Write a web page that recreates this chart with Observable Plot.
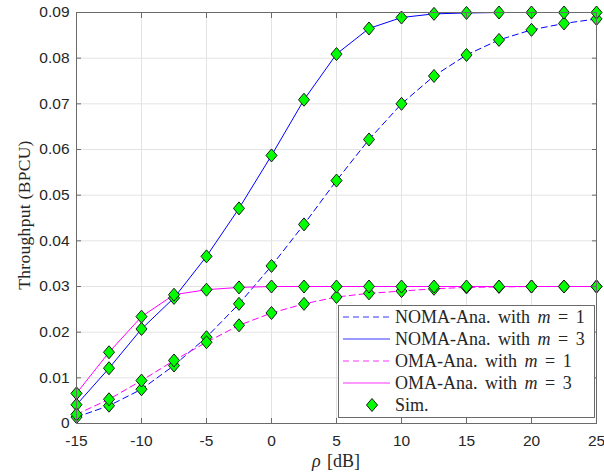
<!DOCTYPE html>
<html>
<head>
<meta charset="utf-8">
<script src="https://cdn.jsdelivr.net/npm/d3@7"></script>
<script src="https://cdn.jsdelivr.net/npm/@observablehq/plot@0.6"></script>
<style>
  html, body { margin: 0; padding: 0; background: #fff; }
  #wrap { position: relative; width: 604px; height: 476px; }
  #wrap svg.plot { position: absolute; left: 0; top: 0; }
  .lab { position: absolute; font-family: "Liberation Serif", serif; color: #262626; white-space: nowrap; }
</style>
</head>
<body>
<div id="wrap"></div>
<script>
// SNR grid (dB)
const snr = [-15, -12.5, -10, -7.5, -5, -2.5, 0, 2.5, 5, 7.5, 10, 12.5, 15, 17.5, 20, 22.5, 25];

// Throughput (BPCU) per scheme
const nomaM1 = [0.0014, 0.0039, 0.0075, 0.0127, 0.0189, 0.0262, 0.0345, 0.0436, 0.0532, 0.0622, 0.0700, 0.0761, 0.0807, 0.0840, 0.0862, 0.0876, 0.0886];
const nomaM3 = [0.0041, 0.0121, 0.0207, 0.0275, 0.0366, 0.0471, 0.0587, 0.0709, 0.0809, 0.0865, 0.0889, 0.0897, 0.0899, 0.0900, 0.0900, 0.0900, 0.0900];
const omaM1  = [0.0020, 0.0053, 0.0094, 0.0138, 0.0178, 0.0215, 0.0242, 0.0262, 0.0277, 0.0285, 0.0290, 0.0295, 0.0298, 0.0299, 0.0300, 0.0300, 0.0300];
const omaM3  = [0.0066, 0.0156, 0.0234, 0.0282, 0.0293, 0.0298, 0.0300, 0.0300, 0.0300, 0.0300, 0.0300, 0.0300, 0.0300, 0.0300, 0.0300, 0.0300, 0.0300];

// Axis ticks
const xTicks = [-15, -10, -5, 0, 5, 10, 15, 20, 25];
const xTickLabels = ["-15", "-10", "-5", "0", "5", "10", "15", "20", "25"];
const yTicks = [0, 0.01, 0.02, 0.03, 0.04, 0.05, 0.06, 0.07, 0.08, 0.09];
const yTickLabels = ["0", "0.01", "0.02", "0.03", "0.04", "0.05", "0.06", "0.07", "0.08", "0.09"];

// Legend entries
const seriesNames = ["NOMA-Ana. with", "NOMA-Ana. with", "OMA-Ana. with", "OMA-Ana. with"];
const seriesM = [1, 3, 1, 3];
const simName = "Sim.";

const BLUE = "#0000ff", MAGENTA = "#ff00ff", GREEN = "#00ff00";
const seriesDefs = [
  {vals: nomaM1, color: BLUE, dash: "6,4"},
  {vals: nomaM3, color: BLUE, dash: null},
  {vals: omaM1, color: MAGENTA, dash: "6,4"},
  {vals: omaM3, color: MAGENTA, dash: null}
];

const tables = seriesDefs.map(s => snr.map((x, i) => ({x, y: s.vals[i]})));
const sims = tables.flat();

// MATLAB-style diamond marker (slightly taller than wide)
const diamond = {
  draw(ctx, size) {
    const r = Math.sqrt(size / Math.PI);
    const w = r * 0.85;
    ctx.moveTo(0, -r); ctx.lineTo(w, 0); ctx.lineTo(0, r); ctx.lineTo(-w, 0); ctx.closePath();
  }
};

const axisColor = "#6b6b6b";
const gridColor = "#e3e3e3";

const chart = Plot.plot({
  width: 604,
  height: 476,
  marginLeft: 76,
  marginRight: 8,
  marginTop: 12,
  marginBottom: 53,
  style: {fontFamily: "'Liberation Sans', Arial, sans-serif", fontSize: "15.5px", color: "#262626", background: "#fff"},
  x: {domain: [-15, 25], ticks: xTicks},
  y: {domain: [0, 0.09], ticks: yTicks},
  marks: [
    Plot.gridX(xTicks, {stroke: gridColor, strokeOpacity: 1}),
    Plot.gridY(yTicks, {stroke: gridColor, strokeOpacity: 1}),
    ...seriesDefs.map((s, k) => Plot.line(tables[k], {
      x: "x", y: "y", stroke: s.color, strokeWidth: 1, strokeDasharray: s.dash
    })),
    Plot.dot(sims, {x: "x", y: "y", symbol: diamond, r: 6.5, fill: GREEN, stroke: "#1a1a1a", strokeWidth: 1}),
    Plot.frame({stroke: axisColor, strokeWidth: 1}),
    Plot.axisX(xTicks, {anchor: "bottom", tickSize: -5, tickPadding: 16, stroke: axisColor, label: null, fill: "#262626",
      tickFormat: (d, i) => xTickLabels[i]}),
    Plot.axisX(xTicks, {anchor: "top", tickSize: -5, stroke: axisColor, text: null, label: null}),
    Plot.axisY(yTicks, {anchor: "left", tickSize: -5, tickPadding: 12, stroke: axisColor, label: null, fill: "#262626",
      tickFormat: (d, i) => yTickLabels[i]}),
    Plot.axisY(yTicks, {anchor: "right", tickSize: -5, stroke: axisColor, text: null, label: null})
  ]
});
chart.classList.add("plot");

const wrap = document.getElementById("wrap");
wrap.appendChild(chart);

// Axis titles
const xl = document.createElement("div");
xl.className = "lab";
xl.style.cssText = "left:336px; top:461px; transform:translate(-50%,-50%); font-size:18px; word-spacing:2px;";
xl.innerHTML = "<i>ρ</i> [dB]";
wrap.appendChild(xl);

const yl = document.createElement("div");
yl.className = "lab";
yl.style.cssText = "left:24px; top:215px; transform:translate(-50%,-50%) rotate(-90deg); font-size:17.5px; letter-spacing:0.3px;";
yl.textContent = "Throughput (BPCU)";
wrap.appendChild(yl);

// Legend box (samples drawn as thin filled bars / dashes)
const lg = d3.create("svg").attr("width", 604).attr("height", 476)
  .style("position", "absolute").style("left", "0px").style("top", "0px");
lg.append("rect").attr("x", 338.5).attr("y", 305.5).attr("width", 256).attr("height", 112)
  .attr("fill", "#fff").attr("stroke", axisColor).attr("stroke-width", 1);
const rowY = [317, 339, 361, 383, 405];
seriesDefs.forEach((s, k) => {
  const segs = s.dash ? d3.range(343, 390, 10).map(a => [a, Math.min(a + 6, 390)]) : [[343, 390]];
  segs.forEach(([a, b]) => {
    lg.append("rect").attr("x", a).attr("y", rowY[k] - 0.5).attr("width", b - a).attr("height", 1)
      .attr("fill", s.color).attr("fill-opacity", 0.8);
  });
  const t = lg.append("text").attr("x", 395).attr("y", rowY[k]).attr("dy", "0.35em")
    .attr("font-family", "'Liberation Serif', serif").attr("font-size", 18).attr("fill", "#262626")
    .style("word-spacing", "3px");
  t.append("tspan").text(seriesNames[k] + " ");
  t.append("tspan").attr("font-style", "italic").text("m");
  t.append("tspan").text(" = " + seriesM[k]);
});
lg.append("path").attr("transform", `translate(372,${rowY[4]})`)
  .attr("d", d3.symbol(diamond, Math.PI * 6.5 * 6.5)())
  .attr("fill", GREEN).attr("stroke", "#1a1a1a");
lg.append("text").attr("x", 395).attr("y", rowY[4]).attr("dy", "0.35em")
  .attr("font-family", "'Liberation Serif', serif").attr("font-size", 18).attr("fill", "#262626")
  .text(simName);
wrap.appendChild(lg.node());
</script>
</body>
</html>
